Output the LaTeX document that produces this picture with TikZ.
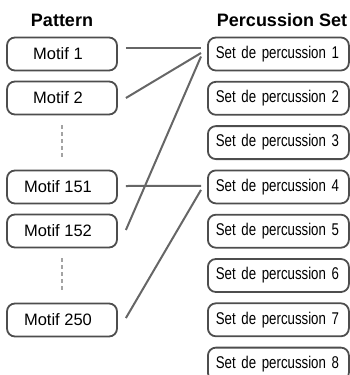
\documentclass[tikz,border=0pt]{standalone}
\usepackage{fontspec}
\setmainfont{Liberation Sans}
\newfontfamily\narrowfont[FakeStretch=0.78]{Liberation Sans}
\usetikzlibrary{positioning}
\definecolor{Frame}{HTML}{4D4D4D}
\definecolor{Wire}{HTML}{666666}
\definecolor{Dots}{HTML}{A3A3A3}
\tikzset{
  motif/.style={draw=Frame, line width=1.8pt, rounded corners=8pt, minimum width=110pt, minimum height=33pt, inner sep=0pt, font=\fontsize{16.5}{19}\selectfont, execute at end node=\hspace*{8pt}},
  percset/.style={draw=Frame, line width=1.8pt, rounded corners=8pt, text width=125pt, inner xsep=8pt, minimum height=33pt, align=left, font=\narrowfont\fontsize{17}{20}\selectfont},
  heading/.style={font=\bfseries\fontsize{18}{21}\selectfont},
  wire/.style={draw=Wire, line width=2pt},
  gap/.style={draw=Dots, line width=2.2pt, dash pattern=on 4pt off 3pt},
}

\begin{document}
\begin{tikzpicture}[x=1pt, y=-1pt]
  \useasboundingbox (0,0) rectangle (350,375);
  \node[heading] (pat) at (62,20) {Pattern};
  \node[heading] (perc) at (282,20) {Percussion Set};
  \node[motif] (m1) at (62,54) {Motif 1};
  \node[motif] (m2) at (62,98) {Motif 2};
  \node[motif] (m151) at (62,187) {Motif 151};
  \node[motif] (m152) at (62,231) {Motif 152};
  \node[motif] (m250) at (62,320) {Motif 250};
  \foreach \i in {1,...,8} {
    \node[percset, anchor=west] (s\i) at (207, {54+44.3*(\i-1)}) {Set de percussion \i};
  }
  \draw[gap] ([yshift=-10pt]m2.south) -- ([yshift=12pt]m151.north);
  \draw[gap] ([yshift=-10pt]m152.south) -- ([yshift=11pt]m250.north);
  \draw[wire] ([xshift=8pt,yshift=6pt]m1.east) -- ([xshift=-6pt,yshift=6pt]s1.west);
  \draw[wire] ([xshift=8pt]m2.east) -- ([xshift=-6pt,yshift=1pt]s1.west);
  \draw[wire] ([xshift=8pt,yshift=1pt]m152.east) -- ([xshift=-6pt,yshift=-2.5pt]s1.west);
  \draw[wire] ([xshift=8pt,yshift=1pt]m151.east) -- ([xshift=-6pt,yshift=1pt]s4.west);
  \draw[wire] ([xshift=8pt,yshift=2pt]m250.east) -- ([xshift=-6pt,yshift=-3pt]s4.west);
\end{tikzpicture}
\end{document}
